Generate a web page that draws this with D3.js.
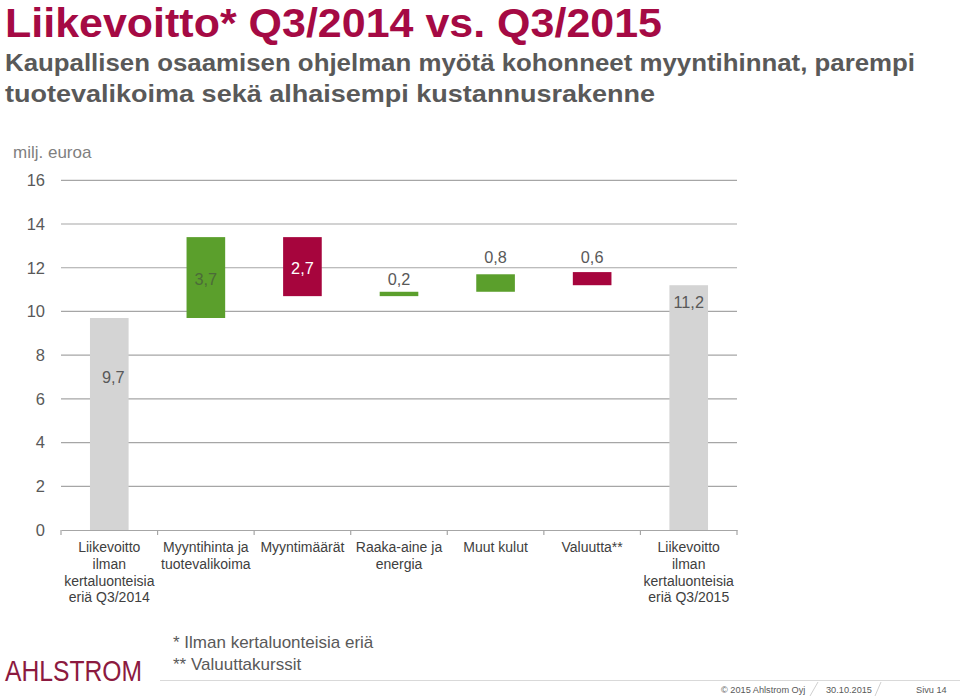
<!DOCTYPE html>
<html><head><meta charset="utf-8">
<script src="https://cdn.jsdelivr.net/npm/d3@7"></script>
<style>
html,body{margin:0;padding:0;background:#fff;}
svg{display:block;font-family:"Liberation Sans",Arial,sans-serif;}
</style></head>
<body>
<svg id="chart" width="960" height="700"></svg>
<script>
// ---- data ----
const categories = [
  ["Liikevoitto","ilman","kertaluonteisia","eriä Q3/2014"],
  ["Myyntihinta ja","tuotevalikoima"],
  ["Myyntimäärät"],
  ["Raaka-aine ja","energia"],
  ["Muut kulut"],
  ["Valuutta**"],
  ["Liikevoitto","ilman","kertaluonteisia","eriä Q3/2015"]
];
const barBase  = [0, 9.7, 10.7, 10.7, 10.9, 11.2, 0];
const barValue = [9.7, 3.7, 2.7, 0.2, 0.8, 0.6, 11.2];
const barType  = ["total","up","down","up","up","down","total"];
const valueLabels = ["9,7","3,7","2,7","0,2","0,8","0,6","11,2"];
const yTicks = [0,2,4,6,8,10,12,14,16];
const footnotes = ["* Ilman kertaluonteisia eriä","** Valuuttakurssit"];

(function(){
// ---- layout ----
const svg = d3.select("#chart");
const pLeft = 61, pRight = 737, pTop = 180.3, pBottom = 530;
const colors = {total:"#d4d4d4", up:"#5b9f2c", down:"#a6053d"};

const x = d3.scaleBand().domain(d3.range(categories.length)).range([pLeft, pRight]).paddingInner(0.6).paddingOuter(0.3);
const xb = d3.scaleBand().domain(d3.range(categories.length)).range([pLeft, pRight]);
const y = d3.scaleLinear().domain([0,16]).range([pBottom, pTop]);

// title
svg.append("text").attr("x",5).attr("y",37.3).attr("fill","#a50a44")
  .attr("font-size",41).attr("font-weight","bold")
  .attr("textLength",657).attr("lengthAdjust","spacingAndGlyphs")
  .text("Liikevoitto* Q3/2014 vs. Q3/2015");
svg.append("text").attr("x",5).attr("y",71).attr("fill","#595959")
  .attr("font-size",24).attr("font-weight","bold")
  .attr("textLength",910).attr("lengthAdjust","spacingAndGlyphs")
  .text("Kaupallisen osaamisen ohjelman myötä kohonneet myyntihinnat, parempi");
svg.append("text").attr("x",5).attr("y",102).attr("fill","#595959")
  .attr("font-size",24).attr("font-weight","bold")
  .attr("textLength",650).attr("lengthAdjust","spacingAndGlyphs")
  .text("tuotevalikoima sekä alhaisempi kustannusrakenne");

svg.append("text").attr("x",13).attr("y",158).attr("fill","#7f7f7f")
  .attr("font-size",17).text("milj. euroa");

// gridlines
svg.append("g").selectAll("line").data(yTicks.filter(d=>d>0)).join("line")
  .attr("x1",pLeft).attr("x2",pRight).attr("y1",d=>y(d)).attr("y2",d=>y(d))
  .attr("stroke","#a6a6a6").attr("stroke-width",1.2);

// y axis labels
const yAxis = d3.axisLeft(y).tickValues(yTicks).tickSize(0).tickPadding(0).tickFormat(d3.format("d"));
const gy = svg.append("g").attr("transform","translate(45,0)").call(yAxis);
gy.select(".domain").remove();
gy.selectAll("text").attr("font-size",16.5).attr("fill","#595959").attr("font-family","Liberation Sans, Arial, sans-serif");

// bars
svg.append("g").selectAll("rect").data(barValue).join("rect")
  .attr("x",(d,i)=>x(i)).attr("width",x.bandwidth())
  .attr("y",(d,i)=>y(barBase[i]+d)).attr("height",(d,i)=>y(barBase[i])-y(barBase[i]+d))
  .attr("fill",(d,i)=>colors[barType[i]]);

// x axis
const xAxis = d3.axisBottom(xb).tickSize(0).tickFormat("");
const gx = svg.append("g").attr("transform",`translate(0,${pBottom})`).call(xAxis);
gx.select(".domain").attr("stroke","#a6a6a6").attr("stroke-width",1.2);
gx.selectAll(".tick").remove();
svg.append("g").selectAll("line").data(d3.range(categories.length+1)).join("line")
  .attr("x1",i=>pLeft+i*xb.step()).attr("x2",i=>pLeft+i*xb.step())
  .attr("y1",pBottom).attr("y2",pBottom+5).attr("stroke","#a6a6a6").attr("stroke-width",1.2);

// category labels
const cl = svg.append("g").selectAll("text").data(categories).join("text")
  .attr("text-anchor","middle").attr("font-size",14).attr("fill","#404040")
  .attr("x",(d,i)=>xb(i)+xb.bandwidth()/2).attr("y",552);
cl.selectAll("tspan").data(d=>d).join("tspan")
  .attr("x",function(){return this.parentNode.getAttribute("x");})
  .attr("dy",(d,j)=>j===0?0:16.8).text(d=>d);

// value labels (offsets in px relative to bar top; null = centred in bar)
const labelDy = [59, null, null, -12.5, -17.7, -15.3, 16.4];
const labelFill = (i)=> labelDy[i]===null ? (barType[i]==="down" ? "#ffffff" : "#4c6b39") : "#595959";
svg.append("g").selectAll("text").data(valueLabels).join("text")
  .attr("text-anchor","middle").attr("dominant-baseline","central")
  .attr("font-size",16.3).attr("fill",(d,i)=>labelFill(i))
  .attr("x",(d,i)=>x(i)+x.bandwidth()/2+(i===0?4:0))
  .attr("y",(d,i)=>{
    const t=y(barBase[i]+barValue[i]);
    if(labelDy[i]===null) return (t+y(barBase[i]))/2 + 1;
    return t+labelDy[i];
  })
  .text(d=>d);

// footnotes
svg.append("g").selectAll("text").data(footnotes).join("text")
  .attr("x",173).attr("y",(d,i)=>648+i*22).attr("font-size",17).attr("fill","#595959")
  .text(d=>d);

// footer line
svg.append("line").attr("x1",160).attr("x2",960).attr("y1",680.5).attr("y2",680.5)
  .attr("stroke","#d9d9d9").attr("stroke-width",1);

// logo
svg.append("text").attr("x",5).attr("y",681).attr("fill","#8c1a40")
  .attr("font-size",29).attr("textLength",137).attr("lengthAdjust","spacingAndGlyphs")
  .text("AHLSTROM");

// bottom right info
const info = [{t:"© 2015 Ahlstrom Oyj",x:721},{t:"30.10.2015",x:826},{t:"Sivu 14",x:916}];
svg.append("g").selectAll("text").data(info).join("text")
  .attr("x",d=>d.x).attr("y",693).attr("font-size",9.2).attr("fill","#595959").text(d=>d.t);
[[818,682,810,696],[881,682,875,696]].forEach(s=>{
  svg.append("line").attr("x1",s[0]).attr("y1",s[1]).attr("x2",s[2]).attr("y2",s[3]).attr("stroke","#d0d0d0");
});
})();
</script>
</body></html>
